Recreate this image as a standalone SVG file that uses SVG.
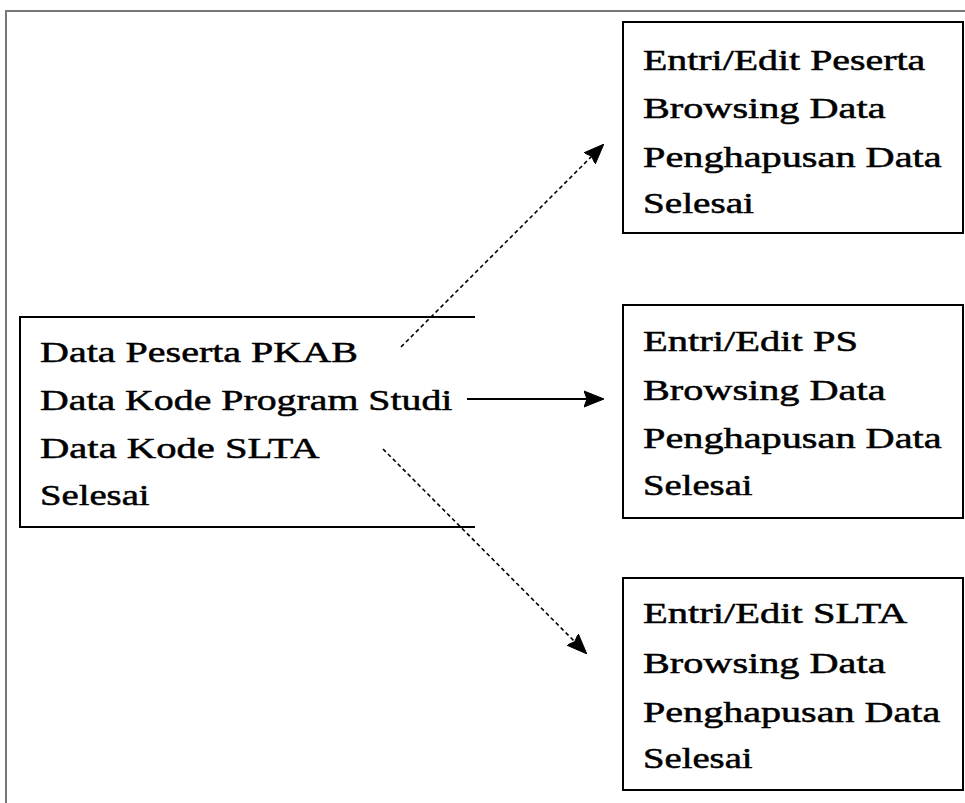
<svg xmlns="http://www.w3.org/2000/svg" width="965" height="803" viewBox="0 0 965 803">
<style>
  .t { font-family: "Liberation Serif", "Times New Roman", serif; font-size: 29px; fill: #000; stroke: #000; stroke-width: 0.5; }
  .box { fill: none; stroke: #000; stroke-width: 2; }
  .frame { fill: none; stroke: #777; stroke-width: 2; }
  .dash { fill: none; stroke: #000; stroke-width: 1.6; stroke-dasharray: 4 3; }
  .solid { fill: none; stroke: #000; stroke-width: 2; }
</style>
<defs>
  <marker id="ah" viewBox="0 0 20 18" refX="19" refY="9" markerWidth="20" markerHeight="18" markerUnits="userSpaceOnUse" orient="auto">
    <path d="M0,1 L20,9 L0,17 L3,9 Z" fill="#000" stroke="#000" stroke-width="1"/>
  </marker>
</defs>
<rect width="965" height="803" fill="#fff"/>
<path class="frame" d="M6,803 L6,11 L965,11"/>

<g id="menu-utama">
  <path class="box" d="M475,317 L20,317 L20,527 L475,527"/>
  <g transform="translate(40,0) scale(1.37,1)">
    <text class="t" x="0" y="362" textLength="232" lengthAdjust="spacingAndGlyphs">Data Peserta PKAB</text>
    <text class="t" x="0" y="410" textLength="301" lengthAdjust="spacingAndGlyphs">Data Kode Program Studi</text>
    <text class="t" x="0" y="458" textLength="204" lengthAdjust="spacingAndGlyphs">Data Kode SLTA</text>
    <text class="t" x="0" y="505" textLength="80" lengthAdjust="spacingAndGlyphs">Selesai</text>
  </g>
</g>

<g id="menu-peserta">
  <rect class="box" x="623" y="22" width="340" height="211"/>
  <g transform="translate(643,0) scale(1.37,1)">
    <text class="t" x="0" y="70" textLength="206" lengthAdjust="spacingAndGlyphs">Entri/Edit Peserta</text>
    <text class="t" x="0" y="118" textLength="177" lengthAdjust="spacingAndGlyphs">Browsing Data</text>
    <text class="t" x="0" y="167" textLength="218" lengthAdjust="spacingAndGlyphs">Penghapusan Data</text>
    <text class="t" x="0" y="213" textLength="81" lengthAdjust="spacingAndGlyphs">Selesai</text>
  </g>
</g>

<g id="menu-ps">
  <rect class="box" x="623" y="305" width="340" height="213"/>
  <g transform="translate(643,0) scale(1.37,1)">
    <text class="t" x="0" y="351" textLength="157" lengthAdjust="spacingAndGlyphs">Entri/Edit PS</text>
    <text class="t" x="0" y="400" textLength="177" lengthAdjust="spacingAndGlyphs">Browsing Data</text>
    <text class="t" x="0" y="448" textLength="218" lengthAdjust="spacingAndGlyphs">Penghapusan Data</text>
    <text class="t" x="0" y="495" textLength="80" lengthAdjust="spacingAndGlyphs">Selesai</text>
  </g>
</g>

<g id="menu-slta">
  <rect class="box" x="623" y="578" width="340" height="212"/>
  <g transform="translate(643,0) scale(1.37,1)">
    <text class="t" x="0" y="623" textLength="193" lengthAdjust="spacingAndGlyphs">Entri/Edit SLTA</text>
    <text class="t" x="0" y="673" textLength="177" lengthAdjust="spacingAndGlyphs">Browsing Data</text>
    <text class="t" x="0" y="722" textLength="217" lengthAdjust="spacingAndGlyphs">Penghapusan Data</text>
    <text class="t" x="0" y="768" textLength="80" lengthAdjust="spacingAndGlyphs">Selesai</text>
  </g>
</g>

<g id="connectors">
  <line class="dash" x1="401" y1="347" x2="603" y2="145" marker-end="url(#ah)"/>
  <line class="solid" x1="467" y1="399" x2="603" y2="399" marker-end="url(#ah)"/>
  <line class="dash" x1="383" y1="449" x2="586" y2="653" marker-end="url(#ah)"/>
</g>
</svg>
